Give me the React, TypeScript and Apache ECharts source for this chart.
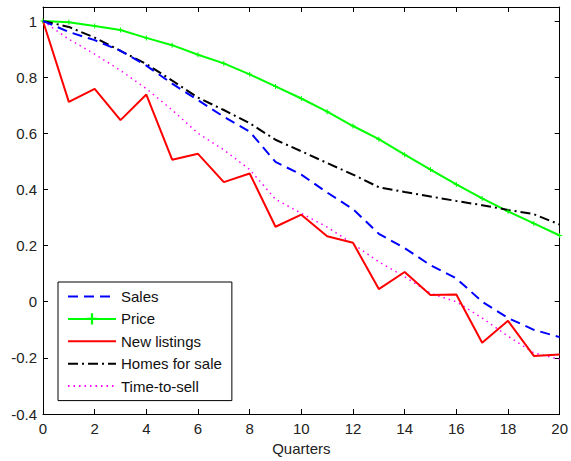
import React, { useEffect, useRef } from "react";
import * as echarts from "echarts";

const quarters = [0, 1, 2, 3, 4, 5, 6, 7, 8, 9, 10, 11, 12, 13, 14, 15, 16, 17, 18, 19, 20];
const sales = [1, 0.961, 0.932, 0.894, 0.841, 0.777, 0.718, 0.659, 0.606, 0.498, 0.453, 0.389, 0.33, 0.242, 0.191, 0.13, 0.083, 0.0, -0.058, -0.1, -0.126];
const price = [1, 0.996, 0.982, 0.968, 0.94, 0.914, 0.88, 0.849, 0.81, 0.767, 0.724, 0.677, 0.626, 0.579, 0.524, 0.471, 0.418, 0.368, 0.322, 0.279, 0.236];
const newListings = [1, 0.712, 0.758, 0.647, 0.738, 0.506, 0.527, 0.426, 0.457, 0.267, 0.31, 0.233, 0.21, 0.045, 0.106, 0.024, 0.026, -0.146, -0.068, -0.193, -0.188];
const homesForSale = [1, 0.979, 0.941, 0.894, 0.847, 0.788, 0.727, 0.683, 0.636, 0.577, 0.536, 0.494, 0.453, 0.408, 0.391, 0.375, 0.359, 0.344, 0.327, 0.312, 0.275];
const timeToSell = [1, 0.935, 0.882, 0.824, 0.759, 0.683, 0.6, 0.541, 0.471, 0.365, 0.315, 0.266, 0.206, 0.142, 0.089, 0.03, 0.0, -0.058, -0.123, -0.182, -0.205];
const seriesNames = ["Sales", "Price", "New listings", "Homes for sale", "Time-to-sell"];
const xTitle = "Quarters";

const FONT = "Liberation Sans";

function pairs(vals: number[]) {
  return quarters.map((q, i) => [q, vals[i]]);
}

export default function App() {
  const ref = useRef<HTMLDivElement>(null);
  useEffect(() => {
    if (!ref.current) return;
    const chart = echarts.init(ref.current, undefined, { renderer: "svg" });
    const axisLine = { show: true, onZero: false, lineStyle: { color: "#000", width: 1 } };
    const tick = { show: true, inside: true, length: 5, lineStyle: { color: "#000", width: 1 } };
    const yFmt = (v: number) => {
      const r = Math.round(v * 5);
      if (Math.abs(v * 5 - r) > 1e-6) return "";
      return String(Number((r / 5).toFixed(1)));
    };
    const hidden = { opacity: 0 };
    chart.setOption({
      animation: false,
      backgroundColor: "#fff",
      textStyle: { fontFamily: FONT },
      grid: { left: 43, right: 5, top: 7, bottom: 43, containLabel: false },
      xAxis: [
        {
          type: "value",
          min: 0,
          max: 20,
          interval: 2,
          name: xTitle,
          nameLocation: "middle",
          nameGap: 27,
          nameTextStyle: { color: "#222", fontSize: 15, fontFamily: FONT },
          axisLine,
          axisTick: tick,
          splitLine: { show: false },
          axisLabel: { color: "#222", fontSize: 15, fontFamily: FONT, margin: 7 },
        },
        {
          type: "value",
          position: "top",
          min: 0,
          max: 20,
          interval: 2,
          axisLine,
          axisTick: tick,
          splitLine: { show: false },
          axisLabel: { show: false },
        },
      ],
      yAxis: [
        {
          type: "value",
          min: -0.4,
          max: 1.05,
          interval: 0.2,
          axisLine,
          axisTick: tick,
          splitLine: { show: false },
          axisLabel: { color: "#222", fontSize: 15, fontFamily: FONT, margin: 6, formatter: yFmt },
        },
        {
          type: "value",
          position: "right",
          min: -0.4,
          max: 1.05,
          interval: 0.2,
          axisLine,
          axisTick: tick,
          splitLine: { show: false },
          axisLabel: { show: false },
        },
      ],
      legend: {
        orient: "vertical",
        left: 58,
        top: 282,
        data: [
          { name: seriesNames[0], itemStyle: hidden },
          { name: seriesNames[1] },
          { name: seriesNames[2], itemStyle: hidden },
          { name: seriesNames[3], itemStyle: hidden },
          { name: seriesNames[4], itemStyle: hidden },
        ],
        backgroundColor: "#fff",
        borderColor: "#000",
        borderWidth: 1,
        borderRadius: 0,
        padding: [7, 10, 7, 9],
        itemWidth: 48,
        itemHeight: 14,
        itemGap: 7.4,
        textStyle: { color: "#111", fontSize: 15, fontFamily: FONT, lineHeight: 15 },
      },
      series: [
        {
          name: seriesNames[0],
          type: "line",
          data: pairs(sales),
          symbol: "none",
          lineStyle: { color: "#0000ff", width: 2, type: [10, 6] },
          itemStyle: { color: "#0000ff" },
          z: 3,
        },
        {
          name: seriesNames[1],
          type: "line",
          data: pairs(price),
          symbol: "path://M4,0H6V4H10V6H6V10H4V6H0V4H4Z",
          symbolSize: 5,
          lineStyle: { color: "#00ff00", width: 2 },
          itemStyle: { color: "#00ff00" },
          z: 2,
        },
        {
          name: seriesNames[2],
          type: "line",
          data: pairs(newListings),
          symbol: "none",
          lineStyle: { color: "#ff0000", width: 2 },
          itemStyle: { color: "#ff0000" },
          z: 2,
        },
        {
          name: seriesNames[3],
          type: "line",
          data: pairs(homesForSale),
          symbol: "none",
          lineStyle: { color: "#000000", width: 2, type: [10, 4, 2, 4] },
          itemStyle: { color: "#000000" },
          z: 2,
        },
        {
          name: seriesNames[4],
          type: "line",
          data: pairs(timeToSell),
          symbol: "none",
          lineStyle: { color: "#ff00ff", width: 1.5, type: [1.5, 4] },
          itemStyle: { color: "#ff00ff" },
          z: 1,
        },
      ],
    });
    return () => chart.dispose();
  }, []);
  return (
    <div
      ref={ref}
      style={{ position: "fixed", left: 0, top: 0, width: 571, height: 461 }}
    />
  );
}
